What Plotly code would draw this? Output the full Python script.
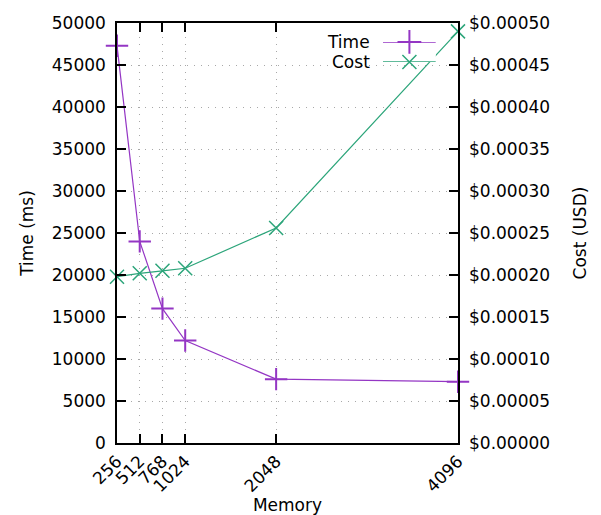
import plotly.graph_objects as go

memory = [256, 512, 768, 1024, 2048, 4096]
time_ms = [47300, 24000, 16000, 12200, 7600, 7300]
cost_usd = [0.000198, 0.000202, 0.000205, 0.000208, 0.000256, 0.000490]
y_ticks = list(range(0, 50001, 5000))
y2_ticks = [i * 0.00005 for i in range(11)]

PURPLE = "#9436c4"
GREEN = "#2ca57a"
FONT = dict(family="DejaVu Sans", size=17, color="black")
GRID = dict(showgrid=True, gridcolor="#a8a8a8", griddash="1px,6px", gridwidth=1)

fig = go.Figure()
fig.add_trace(go.Scatter(
    x=memory, y=time_ms, name="Time", mode="lines+markers",
    line=dict(color=PURPLE, width=1.2), cliponaxis=False,
    marker=dict(symbol="cross-thin", size=16, line=dict(color=PURPLE, width=2)),
    showlegend=False,
))
fig.add_trace(go.Scatter(
    x=memory, y=cost_usd, name="Cost", mode="lines+markers", yaxis="y2",
    line=dict(color=GREEN, width=1.2), cliponaxis=False,
    marker=dict(symbol="x-thin", size=14, line=dict(color=GREEN, width=1.5)),
    showlegend=False,
))

# custom legend (text left, sample right, like gnuplot)
legend_names = ["Time", "Cost"]
legend_colors = [PURPLE, GREEN]
legend_symbols = ["cross-thin", "x-thin"]
legend_sizes = [17, 14]
legend_widths = [2, 1.5]
legend_rows = [1.0, 0.0]
legend_paper_y = [0.955, 0.907]
for name, col, sym, sz, lw, row, py in zip(legend_names, legend_colors, legend_symbols,
                                           legend_sizes, legend_widths, legend_rows, legend_paper_y):
    fig.add_trace(go.Scatter(
        x=[0.0, 1.0], y=[row, row], xaxis="x3", yaxis="y3", cliponaxis=False,
        mode="lines", line=dict(color=col, width=1.5), showlegend=False, hoverinfo="skip",
    ))
    fig.add_trace(go.Scatter(
        x=[0.5], y=[row], xaxis="x3", yaxis="y3", cliponaxis=False,
        mode="markers", marker=dict(symbol=sym, size=sz, line=dict(color=col, width=lw)),
        showlegend=False, hoverinfo="skip",
    ))
    fig.add_annotation(
        x=0.748, y=py, xref="paper", yref="paper", text=name, showarrow=False,
        xanchor="right", yanchor="middle", font=FONT,
    )

fig.update_layout(
    width=593, height=507,
    margin=dict(l=109, r=143, t=15, b=72, autoexpand=False),
    paper_bgcolor="white", plot_bgcolor="white",
    font=FONT,
    xaxis=dict(
        range=[256, 4096], tickvals=memory, ticktext=[str(m) for m in memory],
        tickangle=-45, ticks="inside", ticklen=9, tickwidth=1.5, tickcolor="black",
        showline=True, linecolor="black", linewidth=1.5, mirror="ticks",
        zeroline=False, automargin=False, title=dict(text="Memory", font=FONT, standoff=0),
        **GRID,
    ),
    yaxis=dict(
        range=[0, 50000], tickvals=y_ticks, ticktext=[str(v) for v in y_ticks],
        ticks="inside", ticklen=9, tickwidth=1.5, ticklabelstandoff=6,
        tickcolor="black", showline=True, linecolor="black", linewidth=1.5, mirror=True,
        zeroline=False, automargin=False, title=dict(text="Time (ms)", font=FONT, standoff=14),
        **GRID,
    ),
    yaxis2=dict(
        range=[0, 0.0005], tickvals=y2_ticks, tickformat="$.5f", overlaying="y", side="right",
        ticks="inside", ticklen=9, tickwidth=1.5, tickcolor="black", ticklabelstandoff=10,
        showline=False, showgrid=False, zeroline=False, automargin=False,
        title=dict(text="Cost (USD)", font=FONT, standoff=24),
    ),
    xaxis3=dict(domain=[0.78, 0.935], range=[0, 1], visible=False, fixedrange=True),
    yaxis3=dict(domain=[0.907, 0.955], range=[0, 1], visible=False, fixedrange=True, anchor="x3"),
)

fig.write_html("out.html")
